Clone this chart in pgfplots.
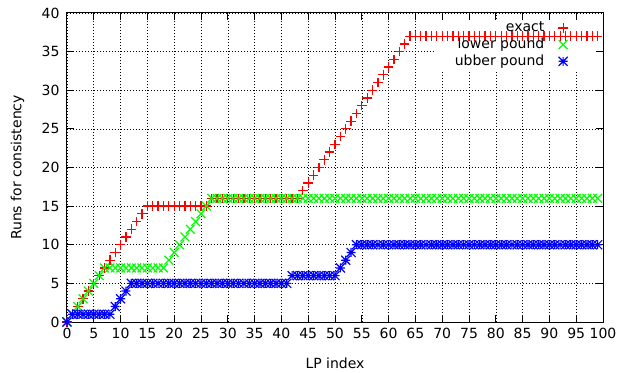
\documentclass[border=0pt]{standalone}
\usepackage{fontspec}
\setmainfont{DejaVu Sans}
\usepackage{pgfplots}
\pgfplotsset{compat=1.18}
\definecolor{gpred}{RGB}{255,0,0}
\definecolor{gpgreen}{RGB}{0,255,0}
\definecolor{gpblue}{RGB}{0,0,255}
\pgfdeclareplotmark{gpplus}{%
  \pgfpathmoveto{\pgfqpoint{-\pgfplotmarksize}{0pt}}%
  \pgfpathlineto{\pgfqpoint{\pgfplotmarksize}{0pt}}%
  \pgfpathmoveto{\pgfqpoint{0pt}{-\pgfplotmarksize}}%
  \pgfpathlineto{\pgfqpoint{0pt}{\pgfplotmarksize}}%
  \pgfusepathqstroke}
\pgfdeclareplotmark{gpx}{%
  \pgfpathmoveto{\pgfqpoint{-\pgfplotmarksize}{-\pgfplotmarksize}}%
  \pgfpathlineto{\pgfqpoint{\pgfplotmarksize}{\pgfplotmarksize}}%
  \pgfpathmoveto{\pgfqpoint{-\pgfplotmarksize}{\pgfplotmarksize}}%
  \pgfpathlineto{\pgfqpoint{\pgfplotmarksize}{-\pgfplotmarksize}}%
  \pgfusepathqstroke}
\pgfdeclareplotmark{gpstar}{%
  \pgfpathmoveto{\pgfqpoint{-\pgfplotmarksize}{0pt}}%
  \pgfpathlineto{\pgfqpoint{\pgfplotmarksize}{0pt}}%
  \pgfpathmoveto{\pgfqpoint{0pt}{-\pgfplotmarksize}}%
  \pgfpathlineto{\pgfqpoint{0pt}{\pgfplotmarksize}}%
  \pgfpathmoveto{\pgfqpoint{-\pgfplotmarksize}{-\pgfplotmarksize}}%
  \pgfpathlineto{\pgfqpoint{\pgfplotmarksize}{\pgfplotmarksize}}%
  \pgfpathmoveto{\pgfqpoint{-\pgfplotmarksize}{\pgfplotmarksize}}%
  \pgfpathlineto{\pgfqpoint{\pgfplotmarksize}{-\pgfplotmarksize}}%
  \pgfusepathqstroke}
\newcommand{\gpfont}{\fontsize{14bp}{16bp}\selectfont}
\begin{document}
\begin{tikzpicture}
\begin{axis}[
  scale only axis, width=536bp, height=309bp,
  at={(0,0)}, anchor=south west,
  xmin=0, xmax=100, ymin=0, ymax=40,
  xtick={0,5,...,100}, ytick={0,5,...,40},
  grid=major,
  major grid style={black, line width=0.6bp, dash pattern=on 0.8bp off 2.2bp},
  axis line style={line width=1bp},
  tick style={black, line width=1bp}, major tick length=7bp,
  tick align=inside,
  /pgf/number format/assume math mode=true,
  tick label style={font=\gpfont},
  xticklabel style={yshift=-3bp},
  yticklabel style={xshift=-4bp},
  label style={font=\gpfont},
  xlabel={LP index}, ylabel={Runs for consistency},
  xlabel style={at={(axis description cs:0.5,-0.1327)}, anchor=center},
  ylabel style={at={(axis description cs:-0.0923,0.5)}, anchor=center},
  clip=false,
  legend plot pos=right,
  legend cell align=right,
  legend style={draw=none, fill=none, font=\gpfont,
    at={(axis description cs:0.9405,0.984)}, anchor=north east,
    column sep=13bp, row sep=1.2bp,
    nodes={inner sep=1bp, text height=10.5bp, text depth=3bp}},
]
\fill[white] (axis cs:68.7,32.6) rectangle (axis cs:98.7,39.03);
\addplot[only marks, mark=gpplus, mark size=4.8bp, color=gpred, line width=1.25bp] coordinates {
(0,0) (1,1) (2,2) (3,3) (4,4) (5,5) (6,6) (7,7) (8,8) (9,9) (10,10) (11,11) (12,12) (13,13) (14,14) (15,15)
(16,15) (17,15) (18,15) (19,15) (20,15) (21,15) (22,15) (23,15) (24,15) (25,15) (26,15)
(27,16) (28,16) (29,16) (30,16) (31,16) (32,16) (33,16) (34,16) (35,16) (36,16) (37,16) (38,16) (39,16) (40,16) (41,16) (42,16) (43,16)
(44,17) (45,18) (46,19) (47,20) (48,21) (49,22) (50,23) (51,24) (52,25) (53,26) (54,27) (55,28) (56,29) (57,30) (58,31) (59,32) (60,33) (61,34) (62,35) (63,36) (64,37)
(65,37) (66,37) (67,37) (68,37) (69,37) (70,37) (71,37) (72,37) (73,37) (74,37) (75,37) (76,37) (77,37) (78,37) (79,37) (80,37) (81,37) (82,37)
(83,37) (84,37) (85,37) (86,37) (87,37) (88,37) (89,37) (90,37) (91,37) (92,37) (93,37) (94,37) (95,37) (96,37) (97,37) (98,37) (99,37)
};
\addlegendentry{exact}
\addplot[only marks, mark=gpx, mark size=4.4bp, color=gpgreen, line width=1.25bp] coordinates {
(0,0) (1,1) (2,2) (3,3) (4,4) (5,5) (6,6) (7,7)
(8,7) (9,7) (10,7) (11,7) (12,7) (13,7) (14,7) (15,7) (16,7) (17,7) (18,7)
(19,8) (20,9) (21,10) (22,11) (23,12) (24,13) (25,14) (26,15) (27,16)
(28,16) (29,16) (30,16) (31,16) (32,16) (33,16) (34,16) (35,16) (36,16) (37,16) (38,16) (39,16) (40,16) (41,16) (42,16) (43,16)
(44,16) (45,16) (46,16) (47,16) (48,16) (49,16) (50,16) (51,16) (52,16) (53,16) (54,16) (55,16) (56,16) (57,16) (58,16) (59,16) (60,16) (61,16)
(62,16) (63,16) (64,16) (65,16) (66,16) (67,16) (68,16) (69,16) (70,16) (71,16) (72,16) (73,16) (74,16) (75,16) (76,16) (77,16) (78,16) (79,16) (80,16)
(81,16) (82,16) (83,16) (84,16) (85,16) (86,16) (87,16) (88,16) (89,16) (90,16) (91,16) (92,16) (93,16) (94,16) (95,16) (96,16) (97,16) (98,16) (99,16)
};
\addlegendentry{lower pound}
\addplot[only marks, mark=gpstar, mark size=4.5bp, color=gpblue, line width=1.2bp] coordinates {
(0,0)
(1,1) (2,1) (3,1) (4,1) (5,1) (6,1) (7,1) (8,1)
(9,2) (10,3) (11,4)
(12,5) (13,5) (14,5) (15,5) (16,5) (17,5) (18,5) (19,5) (20,5) (21,5) (22,5) (23,5) (24,5) (25,5) (26,5)
(27,5) (28,5) (29,5) (30,5) (31,5) (32,5) (33,5) (34,5) (35,5) (36,5) (37,5) (38,5) (39,5) (40,5) (41,5)
(42,6) (43,6) (44,6) (45,6) (46,6) (47,6) (48,6) (49,6) (50,6)
(51,7) (52,8) (53,9)
(54,10) (55,10) (56,10) (57,10) (58,10) (59,10) (60,10) (61,10) (62,10) (63,10) (64,10) (65,10) (66,10) (67,10) (68,10) (69,10) (70,10)
(71,10) (72,10) (73,10) (74,10) (75,10) (76,10) (77,10) (78,10) (79,10) (80,10) (81,10) (82,10) (83,10) (84,10) (85,10) (86,10)
(87,10) (88,10) (89,10) (90,10) (91,10) (92,10) (93,10) (94,10) (95,10) (96,10) (97,10) (98,10) (99,10)
};
\addlegendentry{ubber pound}
\end{axis}
\pgfresetboundingbox
\path[use as bounding box] (-67bp,-51bp) rectangle (550bp,322bp);
\end{tikzpicture}
\end{document}
